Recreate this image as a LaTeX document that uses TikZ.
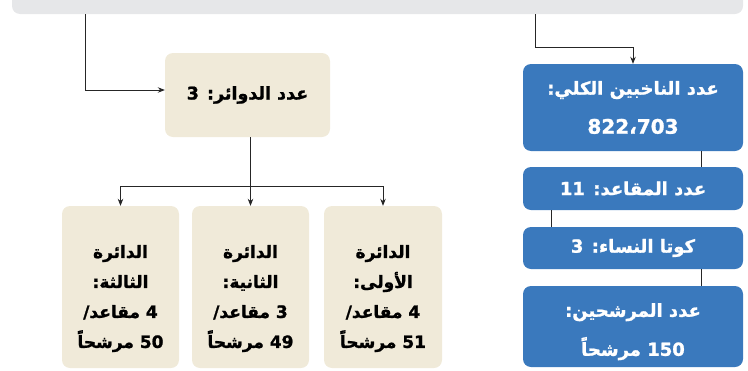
\documentclass[tikz,border=0pt]{standalone}
\usepackage{fontspec}
\newfontfamily\arabicfont[Script=Arabic, BoldFeatures={FakeBold=1.2}]{DejaVu Sans}
\TeXXeTstate=1
\usetikzlibrary{arrows.meta}
\definecolor{bleu}{RGB}{58,121,189}
\definecolor{beige}{RGB}{240,234,217}
\definecolor{gris}{RGB}{230,231,233}

\begin{document}
\begin{tikzpicture}[x=1pt,y=-1pt,
    boite/.style={rounded corners=8pt, align=center, inner sep=0pt},
    bleue/.style={boite, fill=bleu, text=white, minimum width=220pt,
        font=\arabicfont\bfseries\fontsize{18}{39}\selectfont},
    claire/.style={boite, fill=beige, text=black,
        font=\arabicfont\bfseries\fontsize{17}{30}\selectfont},
    lien/.style={draw=black!85, line width=0.8pt},
    fleche/.style={lien, -{Stealth[length=7pt,width=5.5pt]}}]

    \useasboundingbox (0,0) rectangle (748,370);

    % Bandeau gris en haut
    \node[fill=gris, rounded corners=8pt, minimum width=731pt, minimum height=40pt] (bandeau) at (377.5,-6) {};

    % Nombre de circonscriptions
    \node[claire, minimum width=165pt, minimum height=84pt, font=\arabicfont\bfseries\fontsize{17.5}{20}\selectfont] (dawair) at (247.5,95) {\beginR عدد الدوائر\kern0pt: 3\endR};

    % Les trois circonscriptions
    \node[claire, minimum width=118pt, minimum height=162pt] (d1) at (383,287) {\rule{0pt}{36pt}\beginR الدائرة\endR\\ \beginR الأولى\kern0pt:\endR\\ \beginR 4 مقاعد\kern0pt/\endR\\ \beginR\beginL51\endL{} مرشحاً\endR};
    \node[claire, minimum width=117pt, minimum height=162pt] (d2) at (250.5,287) {\rule{0pt}{36pt}\beginR الدائرة\endR\\ \beginR الثانية\kern0pt:\endR\\ \beginR 3 مقاعد\kern0pt/\endR\\ \beginR\beginL49\endL{} مرشحاً\endR};
    \node[claire, minimum width=117pt, minimum height=162pt] (d3) at (120.5,287) {\rule{0pt}{36pt}\beginR الدائرة\endR\\ \beginR الثالثة\kern0pt:\endR\\ \beginR 4 مقاعد\kern0pt/\endR\\ \beginR\beginL50\endL{} مرشحاً\endR};

    % Colonne bleue
    \node[bleue, minimum height=87pt] (electeurs) at (633,107.5) {\beginR عدد الناخبين الكلي\kern0pt:\endR\\ {\fontsize{20}{39}\selectfont 822،703}};
    \node[bleue, minimum height=43pt] (sieges) at (633,188.5) {\beginR عدد المقاعد\kern0pt: \beginL11\endL{}\endR};
    \node[bleue, minimum height=42pt] (quota) at (633,248) {\beginR كوتا النساء\kern0pt: 3\endR};
    \node[bleue, minimum height=81pt] (candidats) at (633,326.5) {\rule{0pt}{24pt}\beginR عدد المرشحين\kern0pt:\endR\\ \beginR\beginL150\endL{} مرشحاً\endR};

    % Liaisons depuis le bandeau
    \draw[fleche] ([xshift=74pt]bandeau.south west) |- ([yshift=5pt]dawair.west);
    \draw[fleche] ([xshift=524pt]bandeau.south west) |- ([yshift=16pt]electeurs.north) -- (electeurs.north);

    % Vers les circonscriptions
    \draw[lien] ([xshift=3pt]dawair.south) -- ++(0,49) coordinate (hub);
    \draw[fleche] (hub) -| (d1.north);
    \draw[fleche] (hub) -- (d2.north);
    \draw[fleche] (hub) -| (d3.north);

    % Entre les cases bleues
    \draw[lien] ([xshift=68pt]electeurs.south) -- ([xshift=68pt]sieges.north);
    \draw[lien] ([xshift=-82pt]sieges.south) -- ([xshift=-82pt]quota.north);
    \draw[lien] ([xshift=68pt]quota.south) -- ([xshift=68pt]candidats.north);

\end{tikzpicture}
\end{document}
